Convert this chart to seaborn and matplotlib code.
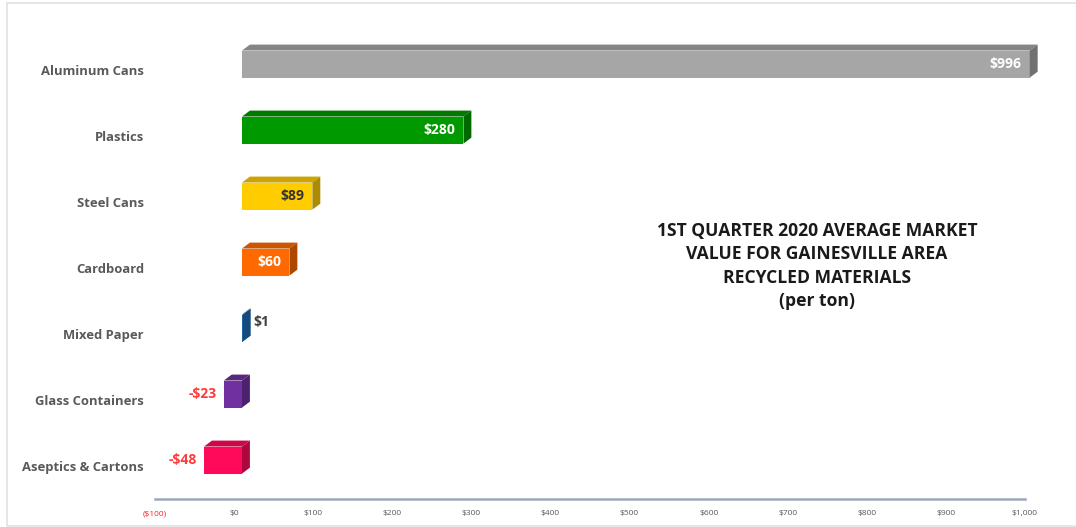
import matplotlib.pyplot as plt
import matplotlib.patches as mpatches
import matplotlib.colors as mcolors
import seaborn as sns
import numpy as np

# data
materials = ['Aluminum Cans', 'Plastics', 'Steel Cans', 'Cardboard',
             'Mixed Paper', 'Glass Containers', 'Aseptics & Cartons']
values = [996, 280, 89, 60, 1, -23, -48]
bar_colors = ['#a6a6a6', '#009a00', '#ffcc00', '#ff6a00', '#1f6db8', '#7030a0', '#ff0a5a']
xticks = list(range(-100, 1001, 100))
title_lines = ['1ST QUARTER 2020 AVERAGE MARKET', 'VALUE FOR GAINESVILLE AREA',
               'RECYCLED MATERIALS', '(per ton)']

sns.set_style('white')
plt.rcParams['font.family'] = ['Open Sans', 'DejaVu Sans']

fig = plt.figure(figsize=(10.76, 5.27), dpi=100)
ax = fig.add_axes([155 / 1076, 1 - 499 / 527, 870 / 1076, 462 / 527])

sns.barplot(x=values, y=materials, hue=materials, palette=bar_colors,
            orient='h', width=0.41, legend=False, ax=ax, saturation=1,
            linewidth=0)

# fake 3D: shift front faces, add top and side faces
dx = 10      # depth in x (data units)
dy = 0.09    # depth in y (category units)
for cont, col in zip(ax.containers, bar_colors):
    for p in cont.patches:
        p.set_x(p.get_x() + dx)
        p.set_y(p.get_y() - dy)
        p.set_edgecolor('none')
        x0, x1 = p.get_x(), p.get_x() + p.get_width()
        x0, x1 = min(x0, x1), max(x0, x1)
        yt, yb = p.get_y(), p.get_y() + p.get_height()
        rgb = np.array(mcolors.to_rgb(col))
        top = mpatches.Polygon([(x0, yt), (x1, yt), (x1 + dx, yt - dy), (x0 + dx, yt - dy)],
                               closed=True, color=rgb * 0.8, lw=0, clip_on=False)
        side = mpatches.Polygon([(x1, yt), (x1 + dx, yt - dy), (x1 + dx, yb - dy), (x1, yb)],
                                closed=True, color=rgb * 0.68, lw=0, clip_on=False)
        ax.add_patch(top)
        ax.add_patch(side)
        p.set_clip_on(False)

# value labels
for i, (v, col) in enumerate(zip(values, bar_colors)):
    yc = i - dy
    txt = f'-${abs(v)}' if v < 0 else f'${v}'
    if v >= 50:
        lum = np.dot(mcolors.to_rgb(col), [0.299, 0.587, 0.114])
        tc = 'white' if lum < 0.7 else '#333333'
        ax.annotate(txt, (v + dx, yc), xytext=(-8, 0), textcoords='offset pixels',
                    ha='right', va='center', fontsize=10, fontweight='bold', color=tc,
                    annotation_clip=False)
    elif v >= 0:
        ax.annotate(txt, (v + 2 * dx, yc - dy), xytext=(3, 0), textcoords='offset pixels',
                    ha='left', va='center', fontsize=10, fontweight='bold', color='#404040',
                    annotation_clip=False)
    else:
        ax.annotate(txt, (v + dx, yc), xytext=(-7, 0), textcoords='offset pixels',
                    ha='right', va='center', fontsize=10, fontweight='bold', color='#ff3b3b',
                    annotation_clip=False)

ax.set_xlim(-100, 1000)
ax.set_ylim(6.5, -0.5)
ax.set_xticks(xticks)
ax.set_xticklabels([f'(${abs(t)})' if t < 0 else f'${t:,}' for t in xticks])
for lab, t in zip(ax.get_xticklabels(), xticks):
    lab.set_color('#ff2020' if t < 0 else '#595959')
ax.tick_params(axis='x', length=0, pad=8, labelsize=6)
ax.tick_params(axis='y', length=0, pad=8, labelsize=9.4, labelcolor='#595959')
for lab in ax.get_yticklabels():
    lab.set_fontweight('bold')
ax.set_xlabel('')
ax.set_ylabel('')

for s in ['top', 'right', 'left']:
    ax.spines[s].set_visible(False)
ax.spines['bottom'].set_color('#9aa8bc')
ax.spines['bottom'].set_linewidth(1.8)

ax.text(817 / 1076, 1 - 266 / 527, '\n'.join(title_lines), transform=fig.transFigure,
        ha='center', va='center', fontsize=12.6, fontweight='bold', color='#1a1a1a',
        linespacing=1.38)

# outer frame
fig.patches.append(mpatches.Rectangle((7 / 1076, 1 / 527), 1.1, 523 / 527,
                                      transform=fig.transFigure, fill=False,
                                      edgecolor='#e2e2e2', lw=1.2))

plt.savefig('out.png', dpi=100)
